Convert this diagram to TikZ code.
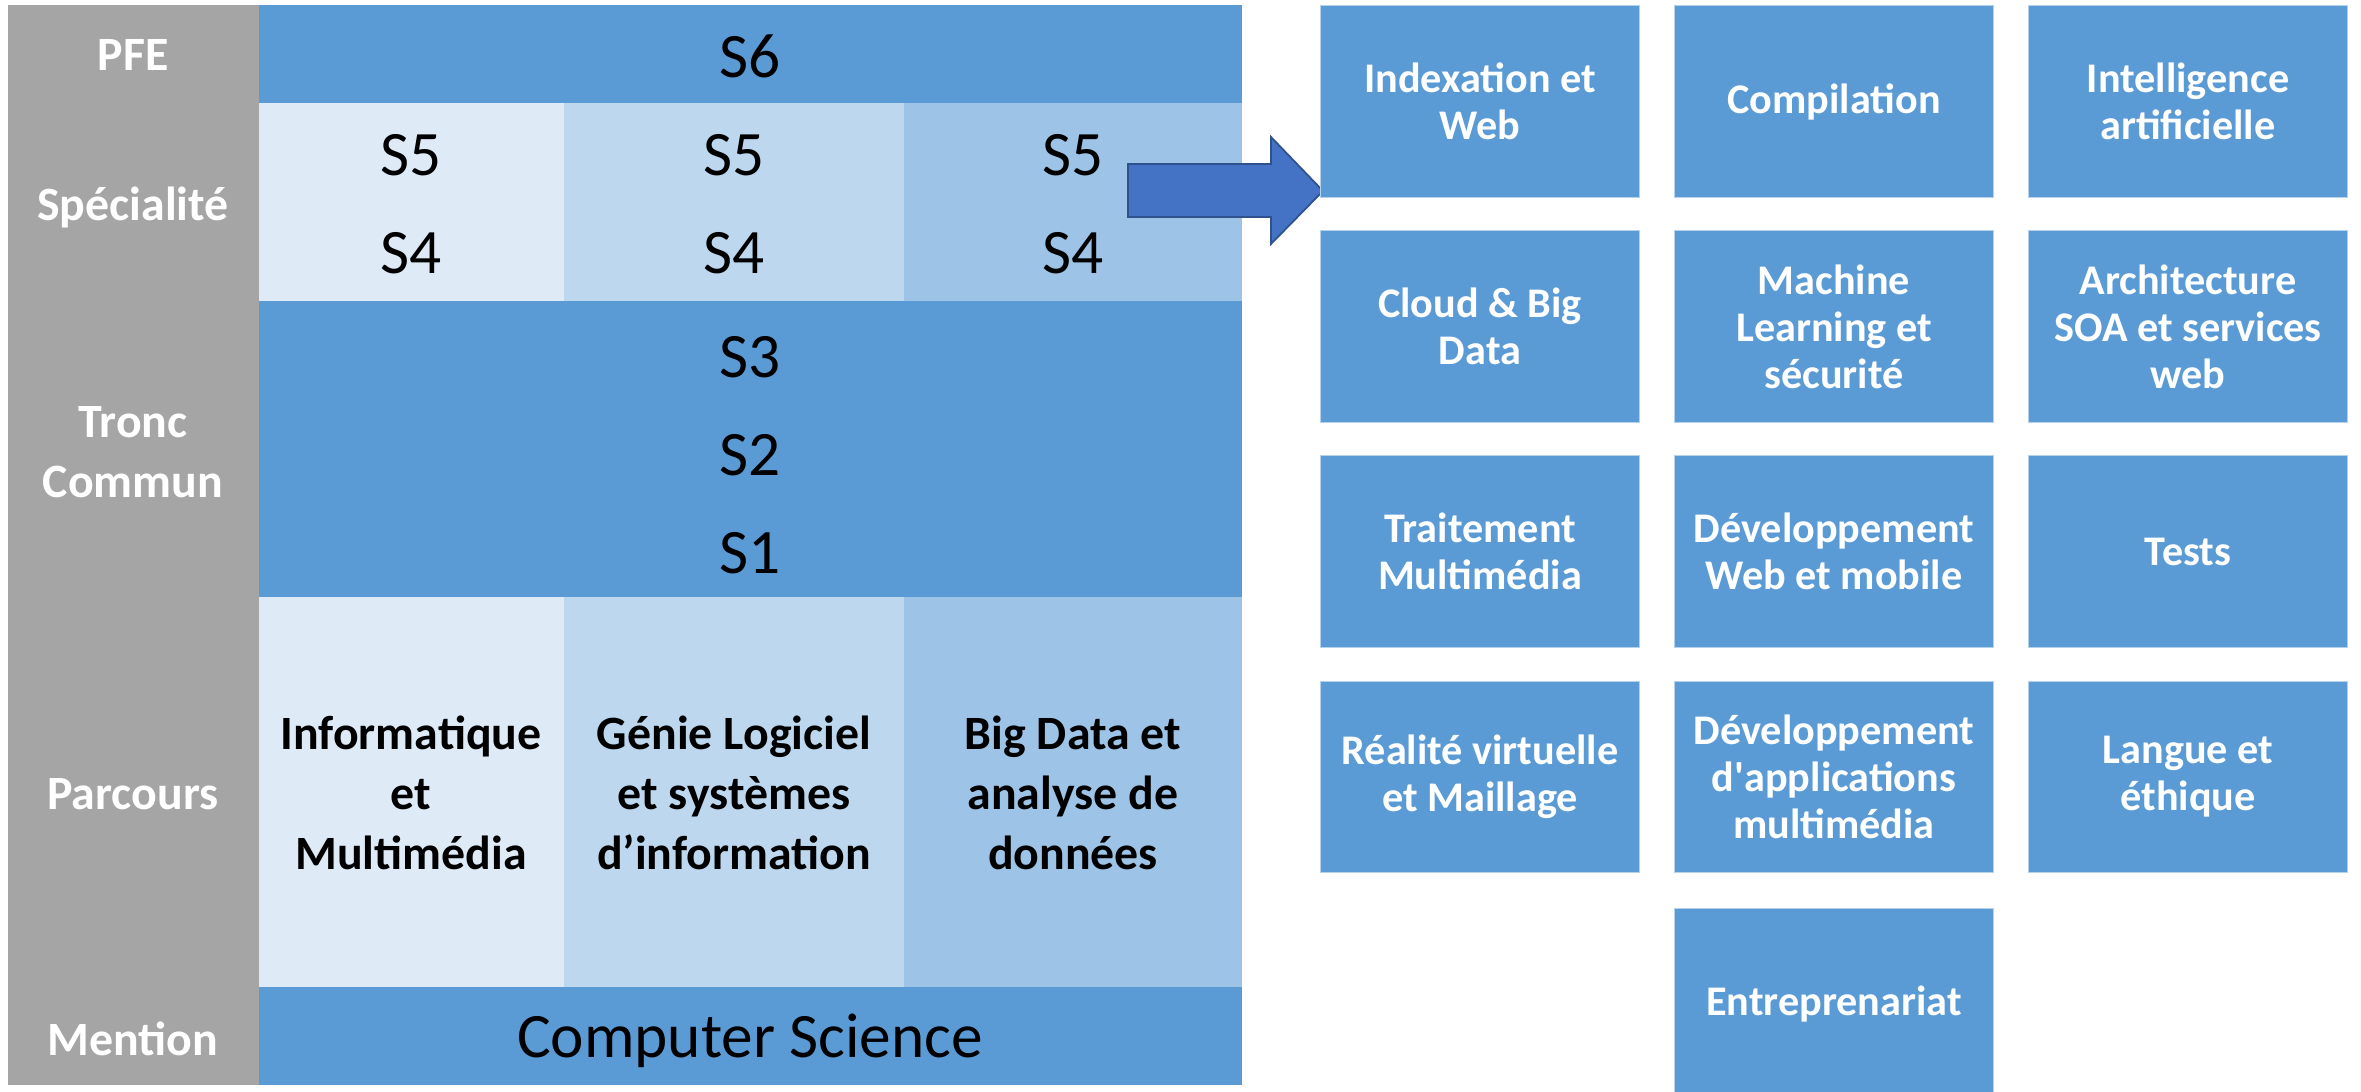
\documentclass[tikz,border=0pt]{standalone}
\usepackage{fontspec}
\setmainfont{Carlito}
\definecolor{bandblue}{HTML}{5B9BD5}
\definecolor{paleblue}{HTML}{DEEBF7}
\definecolor{softblue}{HTML}{BDD7EE}
\definecolor{midblue}{HTML}{9DC3E6}
\definecolor{railgray}{HTML}{A5A5A5}
\definecolor{arrowblue}{HTML}{4472C4}
\definecolor{arrowedge}{HTML}{2F528F}
\tikzset{
  rowlabel/.style={text=white, font=\fontsize{13.6}{17.2}\selectfont\bfseries, align=center, inner sep=0pt},
  sem/.style={font=\fontsize{18}{21}\selectfont, inner sep=0pt},
  track/.style={font=\fontsize{13.6}{17}\selectfont\bfseries, align=center, inner sep=0pt},
  course/.style={fill=bandblue, draw=white!55!bandblue, line width=0.3pt, text=white,
    font=\fontsize{12}{13.4}\selectfont\bfseries, align=center,
    minimum width=3.19cm, minimum height=1.91cm, inner sep=0pt},
}
\begin{document}
\begin{tikzpicture}[x=0.01cm,y=-0.01cm]
		\useasboundingbox (0,0) rectangle (2361,1092);
		% grid of the programme
		\fill[railgray] (8,5) rectangle (259,1085);
		\fill[bandblue] (259,5) rectangle (1242,103);
		\fill[paleblue] (259,103) rectangle (564,301);
		\fill[softblue] (564,103) rectangle (904,301);
		\fill[midblue] (904,103) rectangle (1242,301);
		\fill[bandblue] (259,301) rectangle (1242,597);
		\fill[paleblue] (259,597) rectangle (564,987);
		\fill[softblue] (564,597) rectangle (904,987);
		\fill[midblue] (904,597) rectangle (1242,987);
		\fill[bandblue] (259,987) rectangle (1242,1085);
		% row names
		\node[rowlabel] (pfe) at (133,55) {PFE};
		\node[rowlabel] (spec) at (133,207) {Spécialité};
		\node[rowlabel] (tronc) at (133,452) {Tronc\\Commun};
		\node[rowlabel] (parc) at (133,794) {Parcours};
		\node[rowlabel] (mention) at (133,1039) {Mention};
		% semesters
		\node[sem] (s6) at (750,56) {S6};
		\node[sem] (s5a) at (411,155) {S5};
		\node[sem] (s5b) at (734,155) {S5};
		\node[sem] (s5c) at (1073,155) {S5};
		\node[sem] (s4a) at (411,253) {S4};
		\node[sem] (s4b) at (734,253) {S4};
		\node[sem] (s4c) at (1073,253) {S4};
		\node[sem] (s3) at (750,357) {S3};
		\node[sem] (s2) at (750,455) {S2};
		\node[sem] (s1) at (750,553) {S1};
		\node[sem] (cs) at (750,1041) {Computer Science};
		% tracks
		\node[track] (im) at (411,793) {Informatique\\et\\Multimédia};
		\node[track] (glsi) at (734,793) {Génie Logiciel\\et systèmes\\d’information};
		\node[track] (bdad) at (1073,793) {Big Data et\\analyse de\\données};
		% block arrow
		\draw[fill=arrowblue, draw=arrowedge, line width=0.5pt]
			(1128,164) -- (1271,164) -- (1271,137) -- (1323,191)
			-- (1271,244) -- (1271,217) -- (1128,217) -- cycle;
		% courses
		\node[course] (idx) at (1480,101.5) {Indexation et\\Web};
		\node[course] (comp) at (1834,101.5) {Compilation};
		\node[course] (ia) at (2188,101.5) {Intelligence\\artificielle};
		\node[course] (cloud) at (1480,326.5) {Cloud \& Big\\Data};
		\node[course] (ml) at (1834,326.5) {Machine\\Learning et\\sécurité};
		\node[course] (soa) at (2188,326.5) {Architecture\\SOA et services\\web};
		\node[course] (tmm) at (1480,551.5) {Traitement\\Multimédia};
		\node[course] (dwm) at (1834,551.5) {Développement\\Web et mobile};
		\node[course] (tests) at (2188,551.5) {Tests};
		\node[course] (rvm) at (1480,777) {Réalité virtuelle\\et Maillage};
		\node[course] (dam) at (1834,777) {Développement\\d\textquotesingle applications\\multimédia};
		\node[course] (ethic) at (2188,777) {Langue et\\éthique};
		\node[course] (entre) at (1834,1004) {Entreprenariat};
\end{tikzpicture}
\end{document}
